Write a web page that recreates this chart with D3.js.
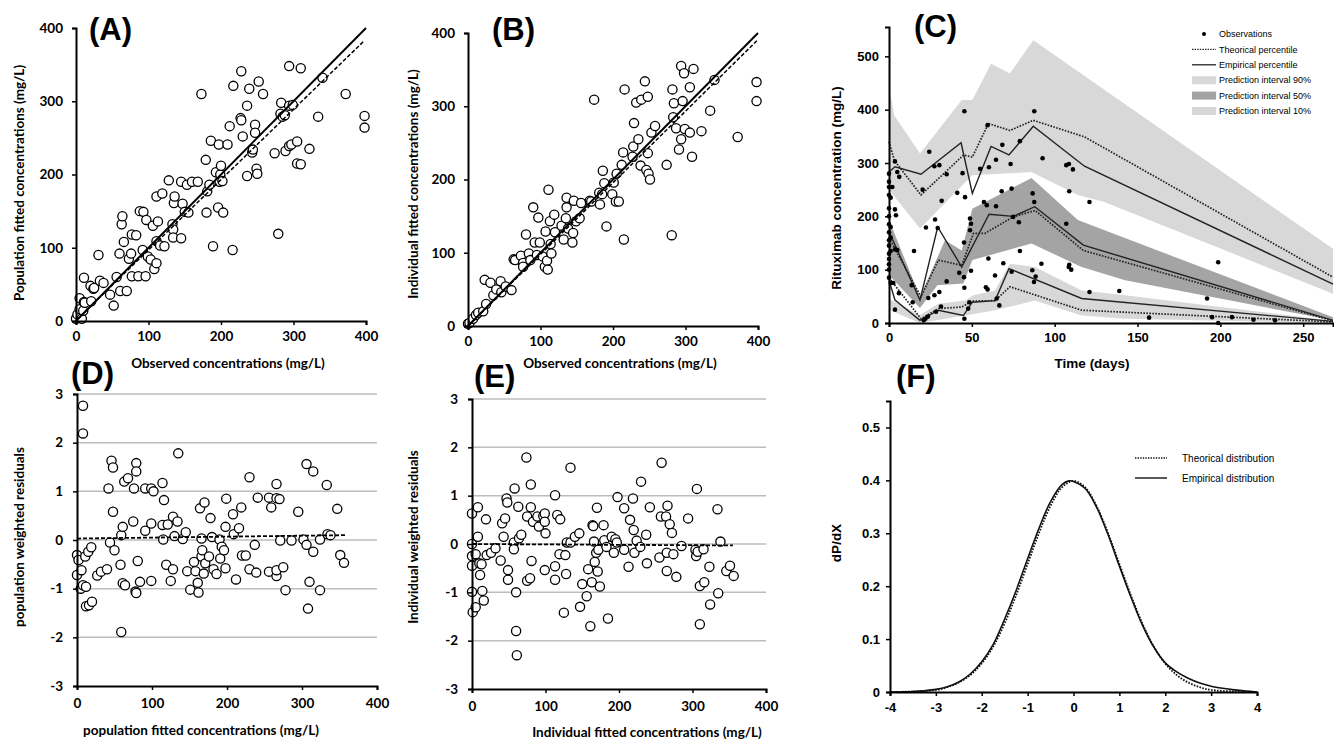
<!DOCTYPE html>
<html>
<head>
<meta charset="utf-8">
<script src="https://cdn.jsdelivr.net/npm/d3@7"></script>
<style>
  body { margin: 0; background: #fff; }
  svg { display: block; }
</style>
</head>
<body>
<svg id="fig" width="1334" height="742"></svg>
<script>
// ---------- data ----------

// (A) observed vs population fitted
const popFitA = [[1,5],[0,3],[2,9],[8,3],[5,16],[10,14],[5,31],[11,26],[12,25],[11,59],[20,48],[24,44],[25,45],[31,90],[33,55],[38,52],[21,27],[47,36],[52,21],[56,60],[60,92],[61,41],[63,132],[64,143],[66,108],[70,41],[73,85],[76,92],[77,118],[83,117],[77,61],[86,61],[96,61],[88,150],[93,149],[92,97],[97,138],[99,88],[103,84],[106,130],[108,71],[111,170],[111,79],[111,109],[113,136],[116,103],[119,174],[122,102],[128,192],[133,132],[134,125],[135,161],[136,170],[134,114],[145,190],[145,113],[147,160],[150,149],[153,186],[155,148],[160,190],[168,190],[173,310],[180,148],[179,220],[181,177],[184,186],[186,246],[189,102],[193,203],[196,155],[197,241],[198,190],[199,200],[200,212],[203,148],[202,191],[209,241],[212,266],[216,97],[217,321],[228,341],[227,277],[228,274],[230,252],[236,294],[236,198],[239,317],[243,230],[244,234],[247,268],[247,257],[249,208],[250,201],[252,327],[258,310],[274,229],[279,119],[282,283],[283,298],[285,279],[288,281],[289,232],[294,348],[294,294],[294,239],[297,241],[299,295],[305,245],[305,215],[310,345],[310,214],[322,235],[334,279],[340,332],[372,310],[398,280],[398,264]];

// (B) observed vs individual fitted
const indFitB = [[0,3],[2,4],[7,10],[11,15],[14,18],[21,20],[25,30],[23,63],[31,59],[35,42],[39,50],[45,61],[46,46],[52,54],[60,49],[63,91],[65,90],[73,96],[76,86],[76,81],[80,125],[84,99],[86,90],[90,162],[92,114],[95,97],[97,148],[99,114],[103,95],[106,81],[107,129],[109,89],[110,77],[111,186],[113,143],[114,112],[115,99],[119,152],[120,128],[129,137],[132,118],[135,147],[136,162],[136,175],[138,133],[145,127],[144,114],[146,171],[149,143],[154,147],[156,168],[168,171],[170,170],[174,309],[181,182],[182,166],[185,180],[186,212],[191,136],[188,195],[199,180],[201,196],[204,170],[205,208],[208,170],[212,220],[214,237],[216,323],[215,118],[227,231],[228,245],[229,277],[232,305],[235,255],[238,219],[239,309],[244,334],[246,213],[248,313],[248,236],[249,208],[251,200],[253,264],[258,273],[274,220],[281,124],[282,323],[283,285],[284,304],[287,270],[291,241],[294,355],[294,255],[296,307],[298,345],[299,269],[306,326],[306,264],[309,231],[311,351],[322,266],[334,294],[340,336],[372,258],[398,333],[398,307]];

const identityLine = [[0, 0], [400, 400]];
const fitLineA = [[0, 1], [398, 383]];
const fitLineB = [[0, 0], [400, 391]];

// (D) population weighted residuals vs population fitted
const pwresD = [[8,2.76],[8,2.19],[0,-0.31],[0,-0.72],[2,-0.41],[6,-0.62],[5,-1.0],[8,-0.93],[11,-0.34],[12,-0.96],[15,-0.24],[19,-0.15],[12,-1.36],[16,-1.34],[20,-1.27],[27,-0.73],[32,-0.65],[40,-0.6],[42,1.06],[44,-0.05],[46,1.63],[48,1.49],[48,0.58],[50,-0.21],[58,-0.51],[59,0.1],[59,-1.89],[61,0.27],[63,1.2],[61,-0.89],[64,-0.93],[68,1.27],[75,0.38],[76,1.06],[79,1.58],[79,1.41],[78,-1.06],[79,-1.09],[81,-0.43],[84,-0.86],[91,0.19],[91,1.06],[99,0.34],[99,1.06],[99,-0.84],[102,1.0],[114,1.17],[115,0.01],[114,0.31],[116,0.82],[119,-0.51],[121,0.32],[125,-0.84],[128,-0.6],[128,0.48],[130,0.08],[135,1.78],[134,0.38],[141,0.02],[145,0.16],[147,-0.64],[151,-1.02],[156,-0.45],[158,-0.64],[161,-0.88],[162,-1.08],[164,0.65],[166,0.03],[166,-0.34],[167,-0.21],[170,0.77],[169,-0.69],[171,-0.48],[176,-0.34],[178,0.45],[180,0.06],[182,-0.6],[186,-0.7],[190,0.01],[191,-0.38],[193,-0.14],[196,-0.21],[198,0.27],[198,-0.58],[199,0.85],[208,0.53],[209,0.12],[212,-0.81],[216,0.24],[219,0.67],[220,-0.32],[225,-0.32],[230,1.29],[230,-0.6],[237,-0.1],[239,-0.67],[241,0.87],[256,-0.65],[256,0.87],[259,0.67],[266,1.15],[266,0.86],[270,0.84],[266,-0.74],[266,-0.62],[271,-0.01],[275,-0.56],[278,-1.03],[286,-0.01],[295,0.58],[302,0.01],[306,1.56],[306,-0.1],[315,1.41],[315,-0.24],[310,-0.86],[308,-1.41],[324,0.01],[324,-1.03],[333,1.13],[334,0.12],[338,0.1],[347,0.64],[351,-0.31],[356,-0.47]];
const trendD = [[0, 0.03], [360, 0.1]];

// (E) individual weighted residuals vs individual fitted
const iwresE = [[0,0.63],[0,0],[0,-0.25],[0,-0.45],[0,-0.99],[1,-1.41],[5,-1.31],[8,0.76],[8,0.15],[5,-0.21],[10,-0.4],[11,-0.64],[13,-0.42],[14,-0.97],[16,-1.17],[19,0.51],[20,-0.23],[26,-0.18],[32,-0.09],[39,-0.34],[41,0.43],[45,0.53],[43,0.15],[47,0.94],[48,0.86],[49,-0.54],[49,-0.74],[57,0.03],[57,-0.11],[58,1.15],[60,-1.8],[61,-2.3],[60,-1.0],[63,0.77],[64,0.12],[67,0.19],[74,1.79],[75,0.57],[75,-0.76],[79,-0.71],[80,0.76],[80,1.23],[81,-0.35],[83,0.46],[89,0.57],[91,0.36],[97,0.58],[99,0.63],[99,0.46],[100,0.22],[99,-0.54],[113,1.01],[113,-0.46],[113,-0.74],[116,0.6],[119,-0.21],[120,0.51],[125,-1.42],[127,-0.23],[128,-0.62],[129,0.03],[134,1.58],[134,0.03],[140,0.15],[146,0.22],[147,-1.3],[150,-0.83],[156,-1.08],[158,-0.52],[161,-1.7],[163,-0.79],[164,0.39],[165,0.37],[166,0.05],[167,-0.37],[169,-0.18],[170,0.75],[171,-0.57],[172,-0.12],[174,-0.88],[179,0.39],[180,0.08],[183,-0.06],[185,-1.54],[190,0.15],[193,-0.18],[195,0.1],[198,0.97],[197,0.03],[207,-0.12],[207,0.74],[213,-0.47],[215,0.5],[219,0.94],[220,0.29],[221,-0.18],[224,0.07],[230,1.29],[229,-0.06],[237,0.19],[238,-0.4],[242,0.76],[255,-0.28],[257,0.57],[258,1.68],[264,0.57],[265,-0.18],[265,-0.56],[266,0.79],[269,0.41],[272,0.23],[274,-0.21],[278,-0.68],[285,-0.04],[294,0.53],[304,-0.12],[306,1.14],[305,-0.25],[307,-0.16],[310,-0.87],[310,-1.66],[315,-0.11],[316,-0.79],[323,-0.47],[324,-1.25],[335,-1.02],[334,0.72],[338,0.05],[346,-0.56],[351,-0.45],[356,-0.66]];
const trendE = [[0, 0], [355, -0.03]];

// (C) VPC: observations (time in days, mg/L)
const obsC = [[0,85],[0,100],[0,110],[0,120],[0,130],[0,145],[0,155],[0,170],[0,185],[0,200],[0,215],[0,240],[0,255],[0,265],[0,280],[1,75],[1,135],[1,160],[1,180],[1,235],[2,255],[2.6,75],[3.6,303],[5,283],[6.2,274],[3.6,213],[4.2,202],[5,137],[3.6,138],[6,56],[3.6,25],[15.1,135],[13.7,71],[14.3,39],[20.3,250],[22.3,179],[24.3,321],[23.7,47],[21,5],[22,8],[23.5,12],[27.4,294],[30.4,296],[27.8,194],[29.4,178],[27.4,52],[30.4,58],[31.4,31],[28.4,21],[34.8,279],[31.8,229],[34.8,78],[41.2,244],[42.4,94],[45.5,397],[44.4,281],[45.9,236],[45.3,151],[45.3,86],[45.5,66],[45.5,8],[48.9,196],[49.5,186],[48.9,174],[49.5,98],[48.5,39],[47.8,27],[55,289],[57.3,227],[59,221],[58.5,67],[59.5,63],[60.3,292],[59.5,371],[60,121],[64.6,306],[64.6,219],[64,89],[65,46],[66.6,33],[68.4,334],[68,247],[69,112],[73.4,298],[74,252],[74,96],[75,199],[79,341],[78.4,189],[79,135],[86.7,243],[87.7,397],[87.7,227],[87.5,77],[86.5,99],[88.5,87],[92.7,309],[92,111],[107,296],[108.6,298],[111,288],[108.8,247],[107,186],[108.8,109],[108.5,105],[110,100],[121,227],[121,58],[139,60],[157,10],[192,46],[198.7,114],[195,11],[198.7,0],[207,11],[220,6],[233,5]];

// prediction interval edges [time, value]
const pi90Upper = [[0,442],[3.2,389],[18.7,318],[43.9,418],[50.3,418],[61.6,486],[73,468],[87.1,530],[268,139]];
const pi90Lower = [[0,250],[18.7,177],[50.3,277],[86,283],[114,240],[130,227],[268,55]];
const pi50Upper = [[0,193],[18.7,49],[33.8,155],[43.9,136],[50.3,214],[86,272],[114,193],[127.4,177],[268,11]];
const pi50Lower = [[0,90],[18.7,28],[29.2,71],[44.9,74],[50.3,118],[86,149],[116.3,105],[142.5,80],[268,5]];
const pi10Upper = [[0,45],[18.7,15],[29.8,36],[45.9,42],[50.9,52],[64,61],[73,111],[88,105],[116.3,61],[142.5,52],[268,4]];
const pi10Lower = [[0,25],[18.7,0],[45.9,14],[64,24],[88,42],[116.3,14],[142.5,8],[268,0]];

// percentiles
const theo90 = [[0,340],[3.2,305],[19.3,240],[45,315],[50.3,311],[60,374],[73,361],[87.1,380],[118,349],[268,86]];
const emp90 = [[0,283],[3.6,293],[19.3,279],[43.5,338],[50.3,243],[61.6,331],[72.4,315],[87.1,369],[118,294],[268,73]];
const theo50 = [[0,160],[19.3,49],[29.8,118],[43.9,108],[51,168],[57.9,168],[75,199],[88.2,211],[117.3,136],[268,4]];
const emp50 = [[0,171],[18.7,43],[29.4,180],[43.9,105],[60.4,204],[75,200],[88,218],[117.3,146],[268,5]];
const theo10 = [[0,85],[19.3,8],[29.8,27],[43.9,30],[50.3,41],[64,42],[73,68],[116.3,24],[268,2]];
const emp10 = [[0,80],[3.6,43],[18.7,5],[29.8,24],[44.9,14],[50.3,39],[64,42],[72.4,102],[116.3,46],[268,3]];

const legendC = ['Observations', 'Theorical percentile', 'Empirical percentile',
  'Prediction interval 90%', 'Prediction interval 50%', 'Prediction interval 10%'];

// (F) NPDE distribution
const theoDist = [[-4,0],[-3.5,0.001],[-3,0.004],[-2.75,0.009],[-2.5,0.018],[-2.25,0.032],[-2,0.054],[-1.75,0.086],[-1.5,0.13],[-1.25,0.183],[-1,0.242],[-0.75,0.301],[-0.5,0.352],[-0.25,0.387],[0,0.399],[0.25,0.387],[0.5,0.352],[0.75,0.301],[1,0.242],[1.25,0.183],[1.5,0.13],[1.75,0.086],[2,0.054],[2.25,0.032],[2.5,0.018],[2.75,0.009],[3,0.004],[3.5,0.001],[4,0]];
const empDist = [[-4,0],[-3.5,0.001],[-3,0.005],[-2.75,0.01],[-2.5,0.019],[-2.25,0.034],[-2,0.057],[-1.75,0.09],[-1.5,0.138],[-1.25,0.192],[-1,0.252],[-0.75,0.31],[-0.5,0.36],[-0.25,0.392],[-0.1,0.399],[0,0.398],[0.25,0.385],[0.5,0.35],[0.75,0.298],[1,0.238],[1.25,0.18],[1.5,0.127],[1.75,0.085],[2,0.055],[2.25,0.038],[2.5,0.026],[2.75,0.017],[3,0.011],[3.25,0.007],[3.5,0.004],[3.75,0.002],[4,0]];
const legendF = ['Theorical distribution', 'Empirical distribution'];

// ---------- drawing ----------
const svg = d3.select('#fig');
const calFont = 'Lato, "Open Sans", sans-serif';
const helvFont = '"Liberation Sans", Arial, sans-serif';
const lightGrey = '#d8d8d8';
const darkGrey = '#a4a4a4';
const plainNum = d => String(d);   // keeps "-3" with a hyphen like the original

function styleAxis(g, font, size) {
  g.attr('font-family', font).attr('font-size', size).attr('font-weight', 'bold');
  g.select('.domain').attr('stroke', '#000').attr('stroke-width', 2);
  g.selectAll('.tick line').attr('stroke', '#000').attr('stroke-width', 1.5);
  g.selectAll('.tick text').attr('fill', '#000');
}

function panelLabel(text, x, y) {
  svg.append('text').attr('x', x).attr('y', y)
    .attr('font-family', helvFont).attr('font-weight', 'bold').attr('font-size', 31)
    .text(text);
}

function axisTitle(text, x, y, font, size, rotate) {
  const t = svg.append('text')
    .attr('text-anchor', 'middle')
    .attr('font-family', font).attr('font-weight', 'bold').attr('font-size', size)
    .text(text);
  if (rotate) t.attr('transform', `translate(${x},${y}) rotate(-90)`);
  else t.attr('x', x).attr('y', y);
}

// scatter of fitted vs observed (A, B)
function scatterPanel(points, fitLine, xRange, yRange) {
  const x = d3.scaleLinear().domain([0, 400]).range(xRange);
  const y = d3.scaleLinear().domain([0, 400]).range(yRange);
  const g = svg.append('g');

  g.selectAll('circle').data(points).enter().append('circle')
    .attr('cx', d => x(d[0])).attr('cy', d => y(d[1])).attr('r', 4.6)
    .attr('fill', '#fff').attr('stroke', '#000').attr('stroke-width', 1.3);

  const line = d3.line().x(d => x(d[0])).y(d => y(d[1]));
  g.append('path').datum(identityLine).attr('d', line)
    .attr('fill', 'none').attr('stroke', '#000').attr('stroke-width', 2);
  g.append('path').datum(fitLine).attr('d', line)
    .attr('fill', 'none').attr('stroke', '#000').attr('stroke-width', 1.5)
    .attr('stroke-dasharray', '4,2');

  const ticks = [0, 100, 200, 300, 400];
  const ax = g.append('g').attr('transform', `translate(0,${yRange[0]})`)
    .call(d3.axisBottom(x).tickValues(ticks).tickSize(4).tickPadding(6).tickFormat(plainNum));
  styleAxis(ax, calFont, 13.5);
  const ay = g.append('g').attr('transform', `translate(${xRange[0]},0)`)
    .call(d3.axisLeft(y).tickValues(ticks).tickSize(4).tickPadding(9).tickFormat(plainNum));
  styleAxis(ay, calFont, 13.5);
}

// weighted residuals (D, E)
function residualPanel(points, trend, xRange, yRange) {
  const x = d3.scaleLinear().domain([0, 400]).range(xRange);
  const y = d3.scaleLinear().domain([-3, 3]).range(yRange);
  const g = svg.append('g');

  g.selectAll('.grid').data([-2, -1, 0, 1, 2, 3]).enter().append('line')
    .attr('x1', x(0)).attr('x2', x(400)).attr('y1', d => y(d)).attr('y2', d => y(d))
    .attr('stroke', '#bdbdbd').attr('stroke-width', 1.5);

  g.selectAll('circle').data(points).enter().append('circle')
    .attr('cx', d => x(d[0])).attr('cy', d => y(d[1])).attr('r', 4.6)
    .attr('fill', '#fff').attr('stroke', '#000').attr('stroke-width', 1.3);

  const line = d3.line().x(d => x(d[0])).y(d => y(d[1]));
  g.append('path').datum(trend).attr('d', line)
    .attr('fill', 'none').attr('stroke', '#000').attr('stroke-width', 1.8)
    .attr('stroke-dasharray', '4,2');

  const ax = g.append('g').attr('transform', `translate(0,${yRange[0]})`)
    .call(d3.axisBottom(x).tickValues([0, 100, 200, 300, 400]).tickSize(4).tickPadding(8).tickFormat(plainNum));
  styleAxis(ax, calFont, 13.5);
  const ay = g.append('g').attr('transform', `translate(${xRange[0]},0)`)
    .call(d3.axisLeft(y).tickValues([-3, -2, -1, 0, 1, 2, 3]).tickSize(4).tickPadding(10).tickFormat(plainNum));
  styleAxis(ay, calFont, 13.5);
}

scatterPanel(popFitA, fitLineA, [76, 366], [321, 28]);
scatterPanel(indFitB, fitLineB, [468, 758], [326, 33]);
residualPanel(pwresD, trendD, [77, 377], [686, 394]);
residualPanel(iwresE, trendE, [472, 766], [689, 399]);

// ---- (C) visual predictive check ----
{
  const x = d3.scaleLinear().domain([0, 268]).range([889, 1333]);
  const y = d3.scaleLinear().domain([0, 555]).range([323, 27]);
  const g = svg.append('g');
  const line = d3.line().x(d => x(d[0])).y(d => y(d[1]));
  const band = (up, lo) => line(up.concat(lo.slice().reverse())) + 'Z';

  g.append('path').attr('d', band(pi90Upper, pi90Lower)).attr('fill', lightGrey);
  g.append('path').attr('d', band(pi50Upper, pi50Lower)).attr('fill', darkGrey);
  g.append('path').attr('d', band(pi10Upper, pi10Lower)).attr('fill', lightGrey);

  [theo90, theo50, theo10].forEach(d => {
    g.append('path').datum(d).attr('d', line).attr('fill', 'none')
      .attr('stroke', '#222').attr('stroke-width', 1.7).attr('stroke-dasharray', '1.6,1.4');
  });
  [emp90, emp50, emp10].forEach(d => {
    g.append('path').datum(d).attr('d', line).attr('fill', 'none')
      .attr('stroke', '#222').attr('stroke-width', 1.4);
  });

  g.selectAll('.obs').data(obsC).enter().append('circle')
    .attr('cx', d => x(d[0])).attr('cy', d => y(d[1])).attr('r', 2.3).attr('fill', '#000');

  const ax = g.append('g').attr('transform', `translate(0,${y(0)})`)
    .call(d3.axisBottom(x).tickValues([0, 50, 100, 150, 200, 250]).tickSize(4).tickPadding(6));
  styleAxis(ax, helvFont, 13);
  const ay = g.append('g').attr('transform', `translate(${x(0)},0)`)
    .call(d3.axisLeft(y).tickValues([0, 100, 200, 300, 400, 500]).tickSize(4).tickPadding(6));
  styleAxis(ay, helvFont, 13);

  // legend
  const lg = svg.append('g').attr('font-family', helvFont).attr('font-size', 9);
  legendC.forEach((t, i) => {
    const cy = 34 + i * 15.4;
    lg.append('text').attr('x', 1219).attr('y', cy + 3.2).text(t);
    if (i === 0) lg.append('circle').attr('cx', 1204).attr('cy', cy).attr('r', 2).attr('fill', '#000');
    if (i === 1) lg.append('line').attr('x1', 1192).attr('x2', 1216).attr('y1', cy).attr('y2', cy)
      .attr('stroke', '#222').attr('stroke-width', 1.4).attr('stroke-dasharray', '1.4,1.2');
    if (i === 2) lg.append('line').attr('x1', 1192).attr('x2', 1216).attr('y1', cy).attr('y2', cy)
      .attr('stroke', '#222').attr('stroke-width', 1.3);
    if (i >= 3) lg.append('rect').attr('x', 1192).attr('y', cy - 4).attr('width', 24).attr('height', 8)
      .attr('fill', i === 4 ? darkGrey : lightGrey);
  });
}

// ---- (F) distribution ----
{
  const x = d3.scaleLinear().domain([-4, 4]).range([890, 1257]);
  const y = d3.scaleLinear().domain([0, 0.55]).range([692, 401]);
  const g = svg.append('g');
  const line = d3.line().x(d => x(d[0])).y(d => y(d[1])).curve(d3.curveCatmullRom);

  g.append('path').datum(theoDist).attr('d', line).attr('fill', 'none')
    .attr('stroke', '#111').attr('stroke-width', 1.8).attr('stroke-dasharray', '1.6,1.4');
  g.append('path').datum(empDist).attr('d', line).attr('fill', 'none')
    .attr('stroke', '#111').attr('stroke-width', 1.6);

  const ax = g.append('g').attr('transform', `translate(0,${y(0)})`)
    .call(d3.axisBottom(x).tickValues(d3.range(-4, 5)).tickSize(4).tickPadding(7)
      .tickFormat(plainNum));
  styleAxis(ax, helvFont, 13);
  const ay = g.append('g').attr('transform', `translate(${x(-4)},0)`)
    .call(d3.axisLeft(y).tickValues([0, 0.1, 0.2, 0.3, 0.4, 0.5]).tickSize(4).tickPadding(6)
      .tickFormat(d => d === 0 ? '0' : d3.format('.1f')(d)));
  styleAxis(ay, helvFont, 13);

  const lg = svg.append('g').attr('font-family', helvFont).attr('font-size', 10);
  legendF.forEach((t, i) => {
    const cy = 458 + i * 20;
    lg.append('text').attr('x', 1182).attr('y', cy + 3.5).text(t);
    lg.append('line').attr('x1', 1135).attr('x2', 1167).attr('y1', cy).attr('y2', cy)
      .attr('stroke', '#111').attr('stroke-width', i === 0 ? 1.6 : 1.4)
      .attr('stroke-dasharray', i === 0 ? '1.4,1.2' : null);
  });
}

// ---- titles and panel letters ----
axisTitle('Observed concentrations (mg/L)', 228, 368, calFont, 13.5, false);
axisTitle('Population fitted concentrations (mg/L)', 24, 183, calFont, 13.5, true);
axisTitle('Observed concentrations (mg/L)', 620, 368, calFont, 13.5, false);
axisTitle('Individual fitted concentrations (mg/L)', 418, 184, calFont, 13.5, true);
axisTitle('Time (days)', 1092, 368, helvFont, 13.5, false);
axisTitle('Rituximab concentration (mg/L)', 841, 188, helvFont, 13.5, true);
axisTitle('population fitted concentrations (mg/L)', 201, 735, calFont, 13.5, false);
axisTitle('population weighted residuals', 24, 537, calFont, 13.5, true);
axisTitle('Individual fitted concentrations (mg/L)', 647, 737, calFont, 13.5, false);
axisTitle('Individual weighted residuals', 418, 537, calFont, 13.5, true);
axisTitle('dP/dX', 841, 543, helvFont, 13.5, true);

panelLabel('(A)', 89, 40);
panelLabel('(B)', 492, 40);
panelLabel('(C)', 914, 37);
panelLabel('(D)', 71, 384);
panelLabel('(E)', 474, 387);
panelLabel('(F)', 896, 387);
</script>
</body>
</html>
